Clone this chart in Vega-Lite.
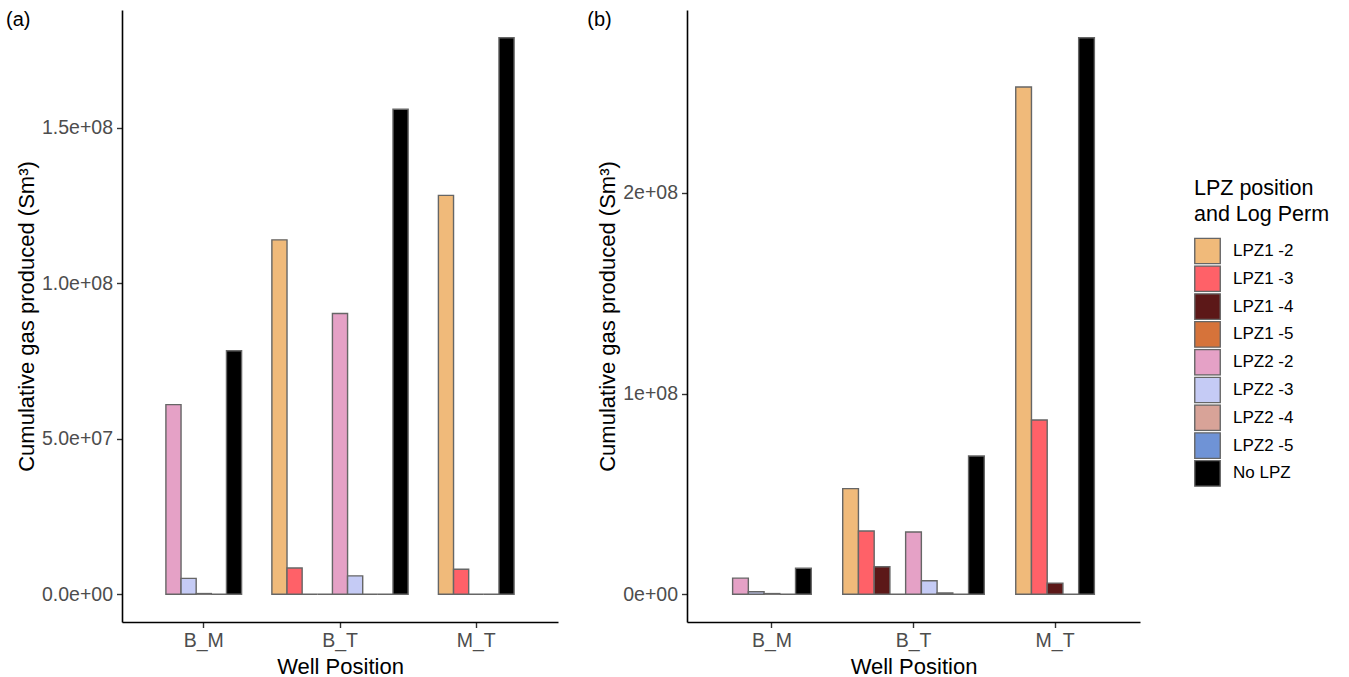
{
  "$schema": "https://vega.github.io/schema/vega-lite/v6.json",
  "padding": {"left": 6, "top": 10, "right": 0, "bottom": 0},
  "background": "white",
  "data": {"values": [
    {"panel": "a", "well": "B_M", "lpz": "LPZ2 -2", "gas": 61000000},
    {"panel": "a", "well": "B_M", "lpz": "LPZ2 -3", "gas": 5100000},
    {"panel": "a", "well": "B_M", "lpz": "LPZ2 -4", "gas": 200000},
    {"panel": "a", "well": "B_M", "lpz": "LPZ2 -5", "gas": 0},
    {"panel": "a", "well": "B_M", "lpz": "No LPZ", "gas": 78300000},
    {"panel": "a", "well": "B_T", "lpz": "LPZ1 -2", "gas": 114000000},
    {"panel": "a", "well": "B_T", "lpz": "LPZ1 -3", "gas": 8400000},
    {"panel": "a", "well": "B_T", "lpz": "LPZ1 -4", "gas": 0},
    {"panel": "a", "well": "B_T", "lpz": "LPZ1 -5", "gas": 0},
    {"panel": "a", "well": "B_T", "lpz": "LPZ2 -2", "gas": 90300000},
    {"panel": "a", "well": "B_T", "lpz": "LPZ2 -3", "gas": 5900000},
    {"panel": "a", "well": "B_T", "lpz": "LPZ2 -4", "gas": 0},
    {"panel": "a", "well": "B_T", "lpz": "LPZ2 -5", "gas": 0},
    {"panel": "a", "well": "B_T", "lpz": "No LPZ", "gas": 156000000},
    {"panel": "a", "well": "M_T", "lpz": "LPZ1 -2", "gas": 128300000},
    {"panel": "a", "well": "M_T", "lpz": "LPZ1 -3", "gas": 8000000},
    {"panel": "a", "well": "M_T", "lpz": "LPZ1 -4", "gas": 0},
    {"panel": "a", "well": "M_T", "lpz": "LPZ1 -5", "gas": 0},
    {"panel": "a", "well": "M_T", "lpz": "No LPZ", "gas": 179000000},
    {"panel": "b", "well": "B_M", "lpz": "LPZ2 -2", "gas": 8000000},
    {"panel": "b", "well": "B_M", "lpz": "LPZ2 -3", "gas": 1200000},
    {"panel": "b", "well": "B_M", "lpz": "LPZ2 -4", "gas": 300000},
    {"panel": "b", "well": "B_M", "lpz": "LPZ2 -5", "gas": 0},
    {"panel": "b", "well": "B_M", "lpz": "No LPZ", "gas": 12900000},
    {"panel": "b", "well": "B_T", "lpz": "LPZ1 -2", "gas": 52600000},
    {"panel": "b", "well": "B_T", "lpz": "LPZ1 -3", "gas": 31500000},
    {"panel": "b", "well": "B_T", "lpz": "LPZ1 -4", "gas": 13700000},
    {"panel": "b", "well": "B_T", "lpz": "LPZ1 -5", "gas": 0},
    {"panel": "b", "well": "B_T", "lpz": "LPZ2 -2", "gas": 31000000},
    {"panel": "b", "well": "B_T", "lpz": "LPZ2 -3", "gas": 6700000},
    {"panel": "b", "well": "B_T", "lpz": "LPZ2 -4", "gas": 650000},
    {"panel": "b", "well": "B_T", "lpz": "LPZ2 -5", "gas": 0},
    {"panel": "b", "well": "B_T", "lpz": "No LPZ", "gas": 68900000},
    {"panel": "b", "well": "M_T", "lpz": "LPZ1 -2", "gas": 252800000},
    {"panel": "b", "well": "M_T", "lpz": "LPZ1 -3", "gas": 86800000},
    {"panel": "b", "well": "M_T", "lpz": "LPZ1 -4", "gas": 5500000},
    {"panel": "b", "well": "M_T", "lpz": "LPZ1 -5", "gas": 0},
    {"panel": "b", "well": "M_T", "lpz": "No LPZ", "gas": 277300000}
  ]},
  "hconcat": [
    {
      "title": {"text": "(a)", "orient": "left", "anchor": "end", "frame": "group", "angle": 0, "align": "left", "baseline": "top", "offset": -15, "fontSize": 20, "fontWeight": "normal", "color": "black", "font": "Liberation Sans"},
      "width": 436,
      "height": 612,
      "transform": [
        {"filter": "datum.panel == 'a'"},
        {"calculate": "datum.well + '|' + datum.lpz", "as": "key"}
      ],
      "mark": {"type": "bar", "stroke": "#666666", "strokeWidth": 1.4},
      "encoding": {
        "x": {
          "field": "key", "type": "nominal",
          "scale": {"domain": ["pad1", "pad2", "B_M|LPZ2 -2", "B_M|LPZ2 -3", "B_M|LPZ2 -4", "B_M|LPZ2 -5", "B_M|No LPZ", "gap1", "gap2", "B_T|LPZ1 -2", "B_T|LPZ1 -3", "B_T|LPZ1 -4", "B_T|LPZ1 -5", "B_T|LPZ2 -2", "B_T|LPZ2 -3", "B_T|LPZ2 -4", "B_T|LPZ2 -5", "B_T|No LPZ", "gap3", "gap4", "M_T|LPZ1 -2", "M_T|LPZ1 -3", "M_T|LPZ1 -4", "M_T|LPZ1 -5", "M_T|No LPZ", "pad3", "pad4"], "paddingInner": 0, "paddingOuter": 0.9},
          "axis": {"values": ["B_M|LPZ2 -4", "B_T|LPZ2 -2", "M_T|LPZ1 -4"], "labelExpr": "split(datum.value, '|')[0]", "labelAngle": 0, "title": "Well Position"}
        },
        "y": {
          "field": "gas", "type": "quantitative",
          "scale": {"domain": [-8950000, 187950000], "nice": false, "zero": false},
          "axis": {"values": [0, 50000000, 100000000, 150000000], "labelExpr": "datum.value == 0 ? '0.0e+00' : datum.value == 50000000 ? '5.0e+07' : datum.value == 100000000 ? '1.0e+08' : '1.5e+08'", "title": "Cumulative gas produced (Sm³)"}
        },
        "y2": {"datum": 0},
        "color": {
          "field": "lpz", "type": "nominal",
          "scale": {"domain": ["LPZ1 -2", "LPZ1 -3", "LPZ1 -4", "LPZ1 -5", "LPZ2 -2", "LPZ2 -3", "LPZ2 -4", "LPZ2 -5", "No LPZ"], "range": ["#F0BA7A", "#FF6168", "#5C1818", "#D6733A", "#E5A1C6", "#C5CBF5", "#D8A398", "#6F93D6", "#000000"]},
          "legend": {"title": ["LPZ position", "and Log Perm"], "orient": "none", "legendX": 1072, "legendY": 168}
        }
      }
    },
    {
      "title": {"text": "(b)", "orient": "left", "anchor": "end", "frame": "group", "angle": 0, "align": "left", "baseline": "top", "offset": -15, "fontSize": 20, "fontWeight": "normal", "color": "black", "font": "Liberation Sans"},
      "width": 453,
      "height": 612,
      "transform": [
        {"filter": "datum.panel == 'b'"},
        {"calculate": "datum.well + '|' + datum.lpz", "as": "key"}
      ],
      "mark": {"type": "bar", "stroke": "#666666", "strokeWidth": 1.4},
      "encoding": {
        "x": {
          "field": "key", "type": "nominal",
          "scale": {"domain": ["pad1", "pad2", "B_M|LPZ2 -2", "B_M|LPZ2 -3", "B_M|LPZ2 -4", "B_M|LPZ2 -5", "B_M|No LPZ", "gap1", "gap2", "B_T|LPZ1 -2", "B_T|LPZ1 -3", "B_T|LPZ1 -4", "B_T|LPZ1 -5", "B_T|LPZ2 -2", "B_T|LPZ2 -3", "B_T|LPZ2 -4", "B_T|LPZ2 -5", "B_T|No LPZ", "gap3", "gap4", "M_T|LPZ1 -2", "M_T|LPZ1 -3", "M_T|LPZ1 -4", "M_T|LPZ1 -5", "M_T|No LPZ", "pad3", "pad4"], "paddingInner": 0, "paddingOuter": 0.9},
          "axis": {"values": ["B_M|LPZ2 -4", "B_T|LPZ2 -2", "M_T|LPZ1 -4"], "labelExpr": "split(datum.value, '|')[0]", "labelAngle": 0, "title": "Well Position"}
        },
        "y": {
          "field": "gas", "type": "quantitative",
          "scale": {"domain": [-13865000, 291165000], "nice": false, "zero": false},
          "axis": {"values": [0, 100000000, 200000000], "labelExpr": "datum.value == 0 ? '0e+00' : datum.value == 100000000 ? '1e+08' : '2e+08'", "title": "Cumulative gas produced (Sm³)"}
        },
        "y2": {"datum": 0},
        "color": {
          "field": "lpz", "type": "nominal",
          "scale": {"domain": ["LPZ1 -2", "LPZ1 -3", "LPZ1 -4", "LPZ1 -5", "LPZ2 -2", "LPZ2 -3", "LPZ2 -4", "LPZ2 -5", "No LPZ"], "range": ["#F0BA7A", "#FF6168", "#5C1818", "#D6733A", "#E5A1C6", "#C5CBF5", "#D8A398", "#6F93D6", "#000000"]},
          "legend": {"title": ["LPZ position", "and Log Perm"], "orient": "none", "legendX": 1072, "legendY": 168}
        }
      }
    }
  ],
  "spacing": 29,
  "resolve": {"scale": {"x": "independent", "y": "independent", "color": "shared"}},
  "config": {
    "font": "Liberation Sans",
    "view": {"stroke": null},
    "axis": {
      "grid": false,
      "domainColor": "#000000",
      "domainWidth": 1.6,
      "tickColor": "#333333",
      "tickWidth": 1.4,
      "tickSize": 5.5,
      "labelColor": "#4D4D4D",
      "labelFontSize": 19.5,
      "labelPadding": 4,
      "labelFont": "Liberation Sans",
      "titleFont": "Liberation Sans",
      "titleFontSize": 22,
      "titleFontWeight": "normal",
      "titleColor": "#000000"
    },
    "axisX": {"titlePadding": 6},
    "axisY": {"titlePadding": 3},
    "legend": {
      "titleFont": "Liberation Sans",
      "titleFontSize": 21.5,
      "titleFontWeight": "normal",
      "titleColor": "#000000",
      "titleLineHeight": 26,
      "titlePadding": 12,
      "labelFont": "Liberation Sans",
      "labelFontSize": 17,
      "labelColor": "#000000",
      "labelOffset": 12,
      "symbolType": "square",
      "symbolSize": 650,
      "symbolStrokeColor": "#666666",
      "symbolStrokeWidth": 1.4,
      "clipHeight": 27,
      "rowPadding": 0.8
    }
  }
}
